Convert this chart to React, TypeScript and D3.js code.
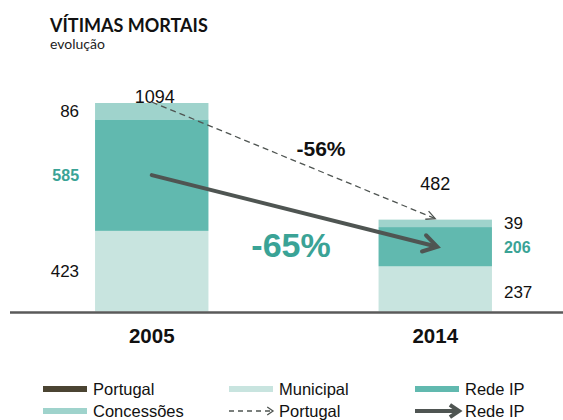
import React from "react";
import * as d3 from "d3";

// values
const years = ["2005", "2014"];
const municipal = [423, 237];
const redeIP = [585, 206];
const concessoes = [86, 39];
const totals = [1094, 482];
const changePortugal = "-56%";
const changeRedeIP = "-65%";

const W = 563;
const H = 420;
const C_MUN = "#c8e4df";
const C_REDE = "#61b9af";
const C_CONC = "#9fd3cc";
const C_PORT = "#4b4432";
const C_TEAL_TXT = "#3aa396";
const C_ARROW = "#4f5552";
const FONT = "'Liberation Sans', Arial, sans-serif";

function arrowHead(x1: number, y1: number, x2: number, y2: number, len: number, spread: number) {
  const a = Math.atan2(y2 - y1, x2 - x1);
  const p1 = [x2 - len * Math.cos(a - spread), y2 - len * Math.sin(a - spread)];
  const p2 = [x2 - len * Math.cos(a + spread), y2 - len * Math.sin(a + spread)];
  return `M${p1[0]},${p1[1]}L${x2},${y2}L${p2[0]},${p2[1]}`;
}

export default function App() {
  const x = d3.scaleBand<string>().domain(years).range([10, 577]).paddingInner(0.6).paddingOuter(0.3);
  const y = d3.scaleLinear().domain([0, 1094]).range([311.5, 103]);
  const bw = x.bandwidth();

  // stacked segments: municipal, rede IP, concessoes
  const stack = years.map((yr, i) => {
    const segs = [
      { key: "mun", v: municipal[i], color: C_MUN },
      { key: "rede", v: redeIP[i], color: C_REDE },
      { key: "conc", v: concessoes[i], color: C_CONC },
    ];
    let acc = 0;
    return segs.map((s) => {
      const y0 = acc;
      acc += s.v;
      return { ...s, yr, i, y0, y1: acc };
    });
  });

  const cx = (yr: string) => (x(yr) as number) + bw / 2;

  // dashed arrow: totals
  const dx1 = cx(years[0]);
  const dy1 = y(totals[0]) - 1;
  const dx2 = cx(years[1]);
  const dy2 = y(totals[1]) - 1;
  // solid arrow: Rede IP mid points
  const sx1 = cx(years[0]);
  const sy1 = y(municipal[0] + redeIP[0] / 2);
  const sx2 = cx(years[1]) + 2;
  const sy2 = y(municipal[1] + redeIP[1] / 2);

  const legendRows = [
    [
      { type: "rect", color: C_PORT, label: "Portugal", x: 43 },
      { type: "rect", color: C_MUN, label: "Municipal", x: 229 },
      { type: "rect", color: C_REDE, label: "Rede IP", x: 415 },
    ],
    [
      { type: "rect", color: C_CONC, label: "Concessões", x: 43 },
      { type: "dash", color: C_ARROW, label: "Portugal", x: 229 },
      { type: "arrow", color: C_ARROW, label: "Rede IP", x: 415 },
    ],
  ];

  return (
    <svg width={W} height={H} style={{ position: "absolute", left: 0, top: 0, background: "#fff" }}>
      <text x={50} y={32} fontFamily="Lato, 'Open Sans', sans-serif" fontWeight="bold" fontSize={18} fill="#111">
        VÍTIMAS MORTAIS
      </text>
      <text x={50} y={49} fontFamily="Lato, 'Open Sans', sans-serif" fontSize={14} fill="#222">
        evolução
      </text>

      {stack.flat().map((s) => (
        <rect
          key={s.yr + s.key}
          x={x(s.yr)}
          y={y(s.y1)}
          width={bw}
          height={y(s.y0) - y(s.y1)}
          fill={s.color}
        />
      ))}

      <line x1={10} x2={W} y1={312.5} y2={312.5} stroke="#5a5a5a" strokeWidth={2.5} />

      {/* segment labels */}
      {stack.map((segs, i) =>
        segs.map((s) => {
          const left = i === 0;
          const tx = left ? (x(s.yr) as number) - 16 : (x(s.yr) as number) + bw + 12;
          const rede = s.key === "rede";
          return (
            <text
              key={"l" + s.yr + s.key}
              x={tx}
              y={y((s.y0 + s.y1) / 2) + (s.key === "mun" && !left ? 9 : 6)}
              textAnchor={left ? "end" : "start"}
              fontFamily={FONT}
              fontSize={rede ? 16 : 17}
              fontWeight={rede ? "bold" : "normal"}
              fill={rede ? C_TEAL_TXT : "#111"}
            >
              {s.v}
            </text>
          );
        })
      )}

      {/* totals */}
      <text x={cx(years[0]) + 3} y={y(totals[0])} textAnchor="middle" fontFamily={FONT} fontSize={18} fill="#111">
        {totals[0]}
      </text>
      <text x={cx(years[1])} y={y(totals[1]) - 30} textAnchor="middle" fontFamily={FONT} fontSize={18} fill="#111">
        {totals[1]}
      </text>

      {/* year labels */}
      {years.map((yr) => (
        <text key={yr} x={cx(yr)} y={343} textAnchor="middle" fontFamily={FONT} fontWeight="bold" fontSize={20.5} fill="#111">
          {yr}
        </text>
      ))}

      {/* dashed Portugal arrow */}
      <line x1={dx1} y1={dy1} x2={dx2} y2={dy2} stroke={C_ARROW} strokeWidth={1.3} strokeDasharray="6,4" />
      <path d={arrowHead(dx1, dy1, dx2, dy2, 10, 0.45)} fill="none" stroke={C_ARROW} strokeWidth={1.3} />

      {/* solid Rede IP arrow */}
      <line x1={sx1} y1={sy1} x2={sx2 - 2} y2={sy2 - 0.5} stroke={C_ARROW} strokeWidth={4} strokeLinecap="round" />
      <path
        d={arrowHead(sx1, sy1, sx2, sy2, 16, 0.55)}
        fill="none"
        stroke={C_ARROW}
        strokeWidth={4}
        strokeLinecap="round"
        strokeLinejoin="miter"
      />

      <text x={321} y={156} textAnchor="middle" fontFamily={FONT} fontWeight="bold" fontSize={21} fill="#111">
        {changePortugal}
      </text>
      <text x={291} y={257} textAnchor="middle" fontFamily={FONT} fontWeight="bold" fontSize={34} fill={C_TEAL_TXT}>
        {changeRedeIP}
      </text>

      {/* legend */}
      {legendRows.map((row, ri) =>
        row.map((it) => {
          const cy = ri === 0 ? 389 : 411;
          return (
            <g key={ri + it.label + it.x}>
              {it.type === "rect" && <rect x={it.x} y={cy - 3} width={44} height={6} fill={it.color} />}
              {it.type === "dash" && (
                <>
                  <line x1={it.x} x2={it.x + 43} y1={cy} y2={cy} stroke={it.color} strokeWidth={1.3} strokeDasharray="5,4" />
                  <path d={arrowHead(it.x, cy, it.x + 44, cy, 7, 0.6)} fill="none" stroke={it.color} strokeWidth={1.3} />
                </>
              )}
              {it.type === "arrow" && (
                <>
                  <line x1={it.x} x2={it.x + 42} y1={cy} y2={cy} stroke={it.color} strokeWidth={4} />
                  <path d={arrowHead(it.x, cy, it.x + 44, cy, 11, 0.6)} fill="none" stroke={it.color} strokeWidth={4} />
                </>
              )}
              <text x={it.x + 50} y={cy + 6} fontFamily={FONT} fontSize={16.5} fill="#111">
                {it.label}
              </text>
            </g>
          );
        })
      )}
    </svg>
  );
}
